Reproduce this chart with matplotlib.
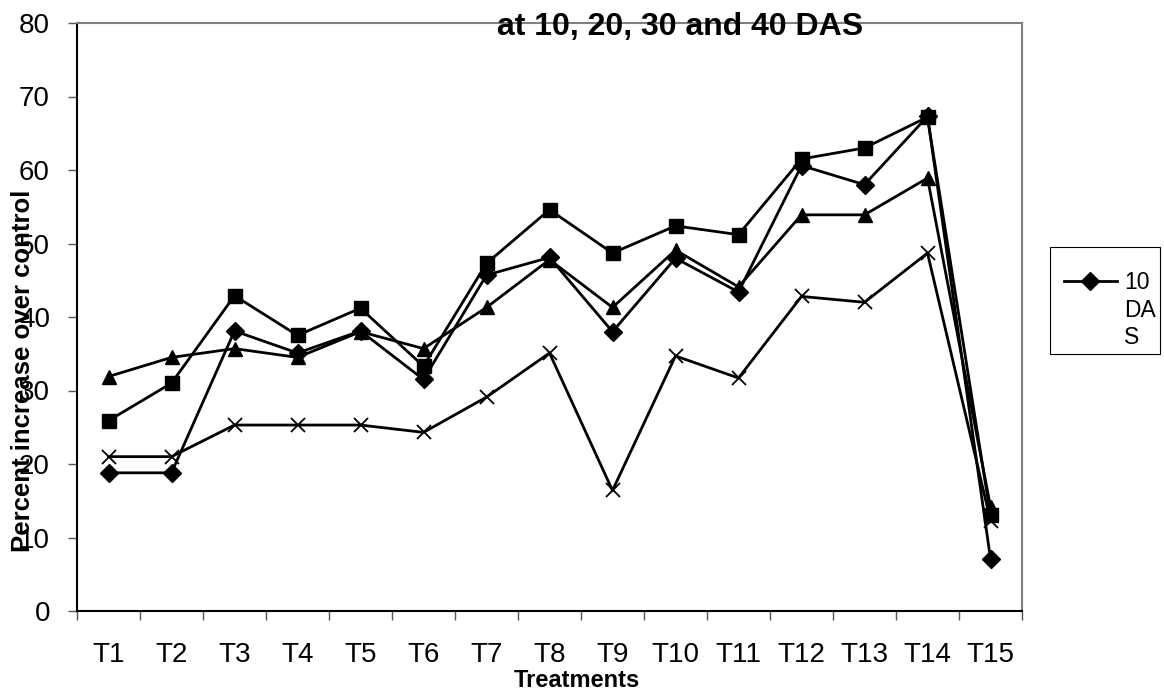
import matplotlib
matplotlib.use("Agg")
import matplotlib.pyplot as plt
from matplotlib.lines import Line2D
from matplotlib.patches import Rectangle

treatments = ["T1", "T2", "T3", "T4", "T5", "T6", "T7", "T8", "T9", "T10",
              "T11", "T12", "T13", "T14", "T15"]
das10 = [18.8, 18.8, 38.1, 35.1, 38.1, 31.5, 45.7, 48.1, 38.0, 48.0, 43.4, 60.6, 58.0, 67.3, 7.1]
das20 = [25.9, 31.0, 42.9, 37.5, 41.2, 33.3, 47.3, 54.6, 48.7, 52.4, 51.2, 61.5, 63.0, 67.2, 13.0]
das30 = [31.9, 34.5, 35.7, 34.5, 38.0, 35.7, 41.3, 47.8, 41.3, 49.1, 44.1, 53.9, 53.9, 58.9, 14.2]
das40 = [21.0, 21.0, 25.3, 25.3, 25.3, 24.3, 29.1, 35.1, 16.4, 34.7, 31.7, 42.8, 42.0, 48.7, 12.3]
yticks = [0, 10, 20, 30, 40, 50, 60, 70, 80]

FONT = "Liberation Sans"
W, H = 1164, 692
fig = plt.figure(figsize=(W / 100, H / 100), dpi=100)
ax = fig.add_axes([77 / W, (H - 611) / H, (1022 - 77) / W, (611 - 23) / H])

x = list(range(1, len(treatments) + 1))
lw = 2.0
l10, = ax.plot(x, das10, color="black", lw=lw, marker="D", markersize=9.5, zorder=4)
ax.plot(x, das20, color="black", lw=lw, marker="s", markersize=10, zorder=3)
ax.plot(x, das30, color="black", lw=lw, marker="^", markersize=10.5, zorder=3)
ax.plot(x, das40, color="black", lw=lw, marker="x", markersize=10, markeredgewidth=1.3, zorder=3)

ax.set_xlim(0.5, len(treatments) + 0.5)
ax.set_ylim(0, 80)
ax.set_yticks(yticks)
ax.set_yticklabels([str(v) for v in yticks], fontsize=20, family=FONT)
ax.tick_params(axis="y", direction="out", length=6.5, width=1, pad=13, color="#555555")

ax.set_xticks([i + 0.5 for i in range(0, len(treatments) + 1)])
ax.set_xticklabels([])
ax.tick_params(axis="x", which="major", direction="out", length=6.5, width=1, color="#555555")
ax.set_xticks(x, minor=True)
ax.set_xticklabels(treatments, minor=True, fontsize=20, family=FONT)
ax.tick_params(axis="x", which="minor", length=0, pad=22)

for side in ("left", "bottom"):
    ax.spines[side].set_color("black")
    ax.spines[side].set_linewidth(1.5)
for side in ("top", "right"):
    ax.spines[side].set_color("#808080")
    ax.spines[side].set_linewidth(1.5)

fig.text(680 / W, 1 - 35 / H, "at 10, 20, 30 and 40 DAS", ha="center", va="baseline",
         fontsize=23, fontweight="bold", family=FONT, zorder=10)
fig.text(577 / W, 1 - 687 / H, "Treatments", ha="center", va="baseline",
         fontsize=17, fontweight="bold", family=FONT)
fig.text(23 / W, 1 - 371 / H, "Percent increase over control", ha="center", va="center",
         rotation=90, fontsize=18.5, fontweight="bold", family=FONT)

# legend (only first entry fits in the figure)
fig.patches.append(Rectangle((1050 / W, 1 - 354 / H), 110 / W, 107 / H,
                             transform=fig.transFigure, fill=False,
                             edgecolor="black", lw=0.8))
fig.lines.append(Line2D([1064 / W, 1117 / W], [1 - 281 / H, 1 - 281 / H],
                        transform=fig.transFigure, color=l10.get_color(), lw=lw))
fig.lines.append(Line2D([1090 / W], [1 - 281 / H], transform=fig.transFigure,
                        color="black", marker="D", markersize=9.5))
fig.text(1124 / W, 1 - 289 / H, "10", ha="left", va="baseline", fontsize=16.5, family=FONT)
fig.text(1124 / W, 1 - 317 / H, "DA", ha="left", va="baseline", fontsize=16.5, family=FONT)
fig.text(1124 / W, 1 - 344 / H, "S", ha="left", va="baseline", fontsize=16.5, family=FONT)

fig.savefig("out.png", dpi=100)
